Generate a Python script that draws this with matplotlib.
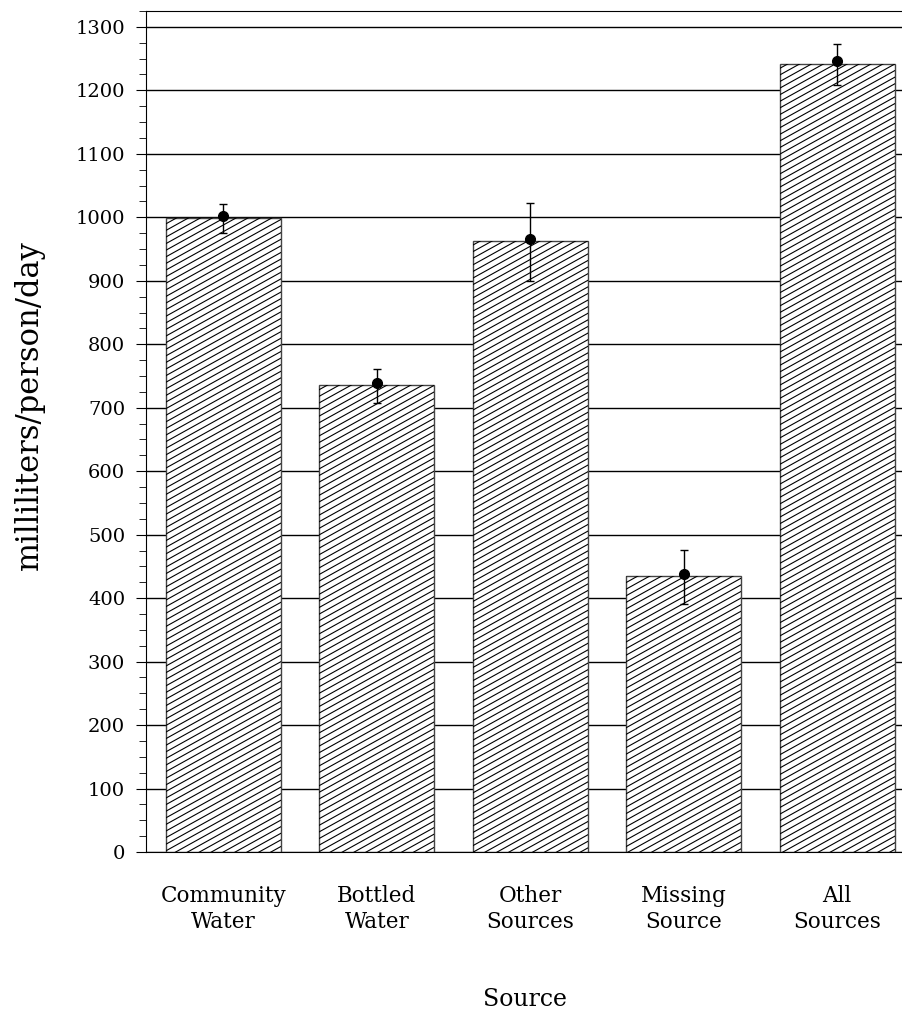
import numpy as np
import matplotlib
matplotlib.use('Agg')
import matplotlib.pyplot as plt
from matplotlib.collections import LineCollection
from matplotlib.transforms import IdentityTransform

# data
sources = ['Community\nWater', 'Bottled\nWater', 'Other\nSources', 'Missing\nSource', 'All\nSources']
bar_vals = [999, 736, 963, 435, 1242]
means = [1002, 739, 966, 438, 1246]
err_low = [975, 707, 900, 391, 1209]
err_high = [1021, 761, 1023, 476, 1273]

plt.rcParams['font.family'] = 'DejaVu Serif'

fig = plt.figure(figsize=(9.03, 10.10), dpi=100)
ax = fig.add_axes([0.1617, 0.1564, 0.8383, 0.8327])

x = np.arange(len(sources))
bars = ax.bar(x, bar_vals, width=0.75, color='white', edgecolor='#444444',
              linewidth=1, zorder=2)

# shallow hatching drawn by hand, clipped to each bar
ang = np.tan(np.radians(29))
segs = []
for c in np.arange(-1200, 1600, 6.6):
    segs.append([(0, c), (1000, c + 1000 * ang)])
for b in bars:
    lc = LineCollection(segs, colors='black', linewidths=0.8,
                        transform=IdentityTransform(), zorder=3)
    ax.add_collection(lc, autolim=False)
    lc.set_clip_path(b)

yerr = [np.array(means) - np.array(err_low), np.array(err_high) - np.array(means)]
ax.errorbar(x, means, yerr=yerr, fmt='o', color='black', markersize=7,
            elinewidth=1, capsize=3, capthick=1, zorder=5)

ax.set_xlim(-0.505, 4.43)
ax.set_ylim(0, 1325)
ax.set_yticks(range(0, 1301, 100))
ax.set_yticks(range(0, 1326, 25), minor=True)
ax.yaxis.grid(True, color='black', linewidth=1, zorder=0)
ax.set_axisbelow(True)

ax.set_xticks(x)
ax.set_xticklabels(sources, fontsize=15.5, linespacing=1.2)
ax.tick_params(axis='x', length=0, pad=24)
ax.tick_params(axis='y', which='major', length=7, labelsize=14, pad=8)
ax.tick_params(axis='y', which='minor', length=5)

ax.spines['right'].set_visible(False)
ax.set_ylabel('milliliters/person/day', fontsize=22)
ax.yaxis.set_label_coords(-0.1334, 0.531)
ax.set_xlabel('Source', fontsize=17, labelpad=40)

fig.savefig('out.png', dpi=100)
